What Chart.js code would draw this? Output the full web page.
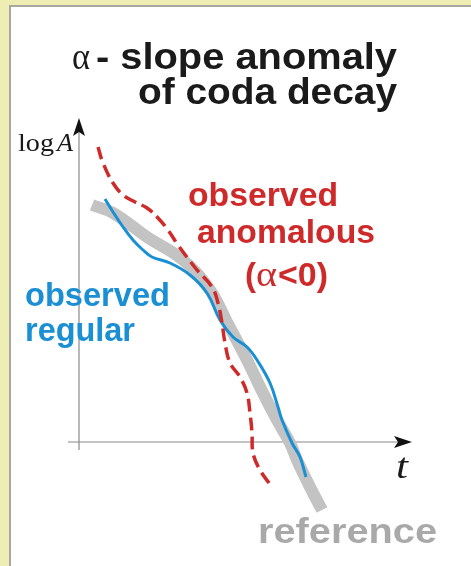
<!DOCTYPE html>
<html>
<head>
<meta charset="utf-8">
<script src="https://cdn.jsdelivr.net/npm/chart.js@4.4.1/dist/chart.umd.min.js"></script>
<style>
  html, body { margin: 0; padding: 0; background: #eeeeb4; overflow: hidden; }
  #panel { position: fixed; left: 9px; top: 5px; right: -20px; bottom: -20px;
           background: #fff; border-left: 2px solid #a8a8a0; border-top: 2px solid #a8a8a0; }
  #wrap { position: absolute; left: 0; top: 0; width: 471px; height: 566px; }
  canvas { display: block; }
</style>
</head>
<body>
<div id="panel"></div>
<div id="wrap"><canvas id="coda" width="471" height="566"></canvas></div>
<script>
// curves: t (time) and log A, arbitrary units
const refT     = [1.3, 3.4, 6.8, 10.4, 13.1, 14.8, 16.8, 18.4, 19.8, 21.1, 21.8, 23.1, 24.3];
const refLogA  = [23.7, 22.9, 20.5, 18.2, 15.2, 12.0, 8.2, 4.9, 2.2, -0.1, -1.8, -4.5, -6.8];

const regT     = [2.6, 3.4, 4.4, 5.4, 6.4, 7.3, 9.1, 11.1, 12.8, 14.1, 15.4, 16.8, 17.8, 19.1, 19.9, 20.3, 21.3, 22.1, 22.7];
const regLogA  = [24.3, 23.0, 21.5, 20.2, 19.2, 18.5, 17.9, 16.7, 14.9, 12.2, 10.5, 9.5, 8.2, 5.9, 3.5, 2.2, -0.1, -1.5, -3.5];

const anomT    = [1.9, 2.4, 3.4, 4.4, 5.6, 6.8, 7.9, 8.9, 9.9, 11.8, 13.3, 13.9, 14.3, 14.6, 15.1, 16.1, 16.8, 17.1, 17.3, 17.4, 18.1, 19.3];
const anomLogA = [29.5, 27.9, 25.9, 24.7, 24.0, 23.4, 22.4, 21.2, 19.7, 17.2, 15.5, 13.9, 11.9, 9.9, 7.9, 6.5, 4.9, 2.9, 0.9, -1.1, -2.8, -4.5];

const pts = (xs, ys) => xs.map((x, i) => ({ x: x, y: ys[i] }));

// text drawn at a fixed width (the original lettering is a bit stretched)
function txt(ctx, s, x, y, font, color, w) {
  ctx.save();
  ctx.font = font;
  ctx.fillStyle = color;
  ctx.textBaseline = 'alphabetic';
  const m = ctx.measureText(s).width;
  ctx.translate(x, y);
  if (w) ctx.scale(w / m, 1);
  ctx.fillText(s, 0, 0);
  ctx.restore();
}

const SANS = '"Liberation Sans", Arial, sans-serif';
const SERIF = '"Liberation Serif", "Times New Roman", serif';

const frame = {
  id: 'frame',
  beforeDatasetsDraw(chart) {
    const ctx = chart.ctx;
    const xs = chart.scales.x, ys = chart.scales.y;
    const x0 = xs.getPixelForValue(0), y0 = ys.getPixelForValue(0);
    const xTip = xs.getPixelForValue(33.3), yTip = ys.getPixelForValue(32.4);
    ctx.save();
    ctx.strokeStyle = '#8a8a8a';
    ctx.lineWidth = 1.2;
    ctx.beginPath();
    ctx.moveTo(xs.getPixelForValue(-1.1), y0);
    ctx.lineTo(xTip - 10, y0);
    ctx.moveTo(x0, ys.getPixelForValue(-0.8));
    ctx.lineTo(x0, yTip + 10);
    ctx.stroke();
    ctx.fillStyle = '#111';
    ctx.beginPath();
    ctx.moveTo(xTip, y0);
    ctx.lineTo(xTip - 18, y0 - 6);
    ctx.lineTo(xTip - 14, y0);
    ctx.lineTo(xTip - 18, y0 + 6);
    ctx.closePath();
    ctx.fill();
    ctx.beginPath();
    ctx.moveTo(x0, yTip);
    ctx.lineTo(x0 - 6, yTip + 18);
    ctx.lineTo(x0, yTip + 14);
    ctx.lineTo(x0 + 6, yTip + 18);
    ctx.closePath();
    ctx.fill();
    ctx.restore();
  },
  afterDraw(chart) {
    const ctx = chart.ctx;
    // title
    txt(ctx, 'α', 72, 69, '38px ' + SERIF, '#1a1a1a', 18);
    txt(ctx, '- slope anomaly', 96, 69, 'bold 36px ' + SANS, '#1a1a1a', 301);
    txt(ctx, 'of coda decay', 138, 104, 'bold 36px ' + SANS, '#1a1a1a', 259);
    // axis labels
    txt(ctx, 'log', 18, 151, '26px ' + SERIF, '#1a1a1a', 36);
    txt(ctx, 'A', 57, 151, 'italic 26px ' + SERIF, '#1a1a1a', 16);
    txt(ctx, 't', 396, 478, 'italic 36px ' + SERIF, '#1a1a1a', 12);
    // series labels
    const red = '#cf2a2a', blue = '#1b8fd3', grey = '#a9a9a9';
    txt(ctx, 'observed', 188, 206, 'bold 33px ' + SANS, red, 150);
    txt(ctx, 'anomalous', 197, 243, 'bold 33px ' + SANS, red, 178);
    txt(ctx, '(', 245, 286, 'bold 33px ' + SANS, red, 11);
    txt(ctx, 'α', 256, 286, '35px ' + SERIF, red, 21);
    txt(ctx, '<0)', 278, 286, 'bold 33px ' + SANS, red, 50);
    txt(ctx, 'observed', 25, 306, 'bold 33px ' + SANS, blue, 145);
    txt(ctx, 'regular', 25, 341, 'bold 33px ' + SANS, blue, 110);
    txt(ctx, 'reference', 258, 543, 'bold 35px ' + SANS, grey, 179);
  }
};

new Chart(document.getElementById('coda'), {
  type: 'line',
  data: {
    datasets: [
      {
        label: 'reference',
        data: pts(refT, refLogA),
        borderColor: '#c3c3c3',
        borderWidth: 12,
        borderCapStyle: 'butt',
        pointRadius: 0,
        tension: 0.4,
        clip: false,
        order: 3
      },
      {
        label: 'observed regular',
        data: pts(regT, regLogA),
        borderColor: '#1b8fd3',
        borderWidth: 3,
        pointRadius: 0,
        tension: 0.4,
        clip: false,
        order: 2
      },
      {
        label: 'observed anomalous',
        data: pts(anomT, anomLogA),
        borderColor: '#cf2a2a',
        borderWidth: 3.5,
        borderDash: [13, 6],
        pointRadius: 0,
        tension: 0.4,
        clip: false,
        order: 1
      }
    ]
  },
  options: {
    responsive: false,
    animation: false,
    layout: { padding: { left: 79, right: 42, top: 112, bottom: 124 } },
    plugins: { legend: { display: false }, tooltip: { enabled: false }, title: { display: false } },
    scales: {
      x: { type: 'linear', min: 0, max: 35, display: false },
      y: { type: 'linear', min: 0, max: 33, display: false }
    }
  },
  plugins: [frame]
});
</script>
</body>
</html>
